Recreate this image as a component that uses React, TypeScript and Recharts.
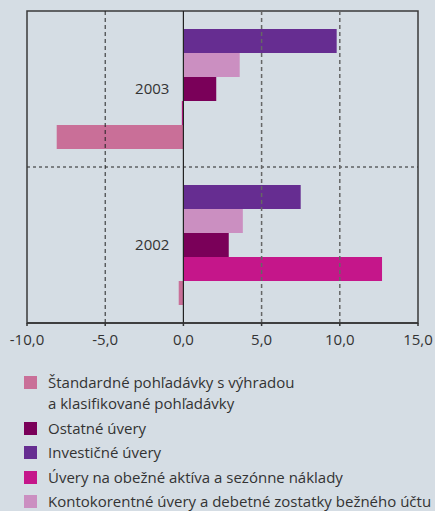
import React from 'react';
import {
  BarChart,
  Bar,
  XAxis,
  YAxis,
  CartesianGrid,
  ReferenceLine,
  ReferenceArea,
  ReferenceDot,
} from 'recharts';

const years = ['2003', '2002'];
const investicne = [9.8, 7.5];
const kontokorentne = [3.6, 3.8];
const ostatne = [2.1, 2.9];
const obezne = [-0.1, 12.7];
const standardne = [-8.1, -0.3];
const xTicks = [-10, -5, 0, 5, 10, 15];

const data = years.map((year, i) => ({
  year,
  investicne: investicne[i],
  kontokorentne: kontokorentne[i],
  ostatne: ostatne[i],
  obezne: obezne[i],
  standardne: standardne[i],
}));

// legend order differs from bar order
const legendItems = [
  { label: 'Štandardné pohľadávky s výhradou\na klasifikované pohľadávky', color: '#c96f98' },
  { label: 'Ostatné úvery', color: '#7a0059' },
  { label: 'Investičné úvery', color: '#662d91' },
  { label: 'Úvery na obežné aktíva a sezónne náklady', color: '#c5168a' },
  { label: 'Kontokorentné úvery a debetné zostatky bežného účtu', color: '#cb8fc1' },
];

const FONT = '"Open Sans", sans-serif';
const fmt = (v: number) => v.toFixed(1).replace('.', ',');

const App: React.FC = () => {
  return (
    <div
      style={{
        position: 'absolute',
        top: 0,
        left: 0,
        width: 435,
        height: 511,
        overflow: 'hidden',
        background: '#d5dde4',
        fontFamily: FONT,
        color: '#333',
      }}
    >
      <BarChart
        width={435}
        height={360}
        data={data}
        layout="vertical"
        margin={{ top: 11, right: 17, left: 27, bottom: 0 }}
        barCategoryGap={18}
        barGap={0}
      >
        <CartesianGrid
          vertical={false}
          stroke="#222"
          strokeDasharray="3 3"
          horizontalCoordinatesGenerator={({ offset }: any) => [offset.top + offset.height / 2]}
        />
        <XAxis
          type="number"
          domain={[-10, 15]}
          ticks={xTicks}
          tickFormatter={fmt}
          tickSize={3}
          tickMargin={8}
          height={37}
          axisLine={{ stroke: '#333', strokeWidth: 1.5 }}
          tickLine={{ stroke: '#333', strokeWidth: 1.5 }}
          tick={{ fill: '#333', fontSize: 15, fontFamily: FONT }}
        />
        <YAxis type="category" dataKey="year" hide />
        <ReferenceLine x={-5} stroke="#222" strokeDasharray="4 3" />
        <ReferenceLine x={5} stroke="#666" strokeWidth={1.5} strokeDasharray="4 3" />
        <ReferenceLine x={10} stroke="#666" strokeWidth={1.5} strokeDasharray="4 3" />
        <Bar dataKey="investicne" fill="#662d91" isAnimationActive={false} />
        <Bar dataKey="kontokorentne" fill="#cb8fc1" isAnimationActive={false} />
        <Bar dataKey="ostatne" fill="#7a0059" isAnimationActive={false} />
        <Bar dataKey="obezne" fill="#c5168a" isAnimationActive={false} />
        <Bar dataKey="standardne" fill="#c96f98" isAnimationActive={false} />
        <ReferenceLine x={0} stroke="#222" strokeWidth={1.2} />
        <ReferenceArea x1={-10} x2={15} fill="none" stroke="#3a3a3a" strokeWidth={1.5} />
        {years.map(y => (
          <ReferenceDot
            key={y}
            x={0}
            y={y}
            r={0}
            fill="none"
            stroke="none"
            label={{ value: y, position: 'left', offset: 14, fill: '#333', fontSize: 15, fontFamily: FONT }}
          />
        ))}
      </BarChart>

      <div style={{ position: 'absolute', top: 372, left: 0, right: 0 }}>
        {legendItems.map(item => (
          <div key={item.label} style={{ display: 'flex', alignItems: 'flex-start', marginBottom: 3.5 }}>
            <div
              style={{
                width: 13,
                height: 13,
                background: item.color,
                marginLeft: 24,
                marginRight: 11,
                marginTop: 4,
                flexShrink: 0,
              }}
            />
            <div style={{ fontSize: 15, lineHeight: '21px', whiteSpace: 'pre' }}>{item.label}</div>
          </div>
        ))}
      </div>
    </div>
  );
};

export default App;
